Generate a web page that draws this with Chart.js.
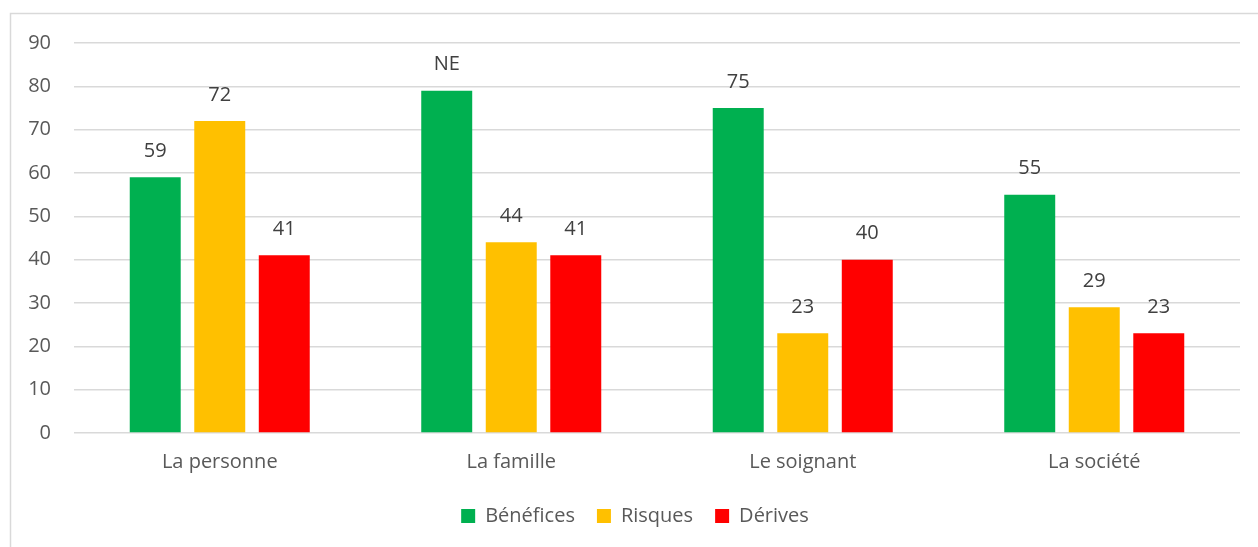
<!DOCTYPE html>
<html><head><meta charset="utf-8">
<script src="https://cdn.jsdelivr.net/npm/chart.js@4.4.0/dist/chart.umd.min.js"></script>
<style>html,body{margin:0;padding:0;background:#fff}#wrap{width:1258px;height:547px;position:relative}</style>
</head><body><div id="wrap"><canvas id="c" width="1258" height="547"></canvas></div>
<script>
const categories = ["La personne", "La famille", "Le soignant", "La société"];
const benefices = [59, 79, 75, 55];
const risques = [72, 44, 23, 29];
const derives = [41, 41, 40, 23];
const beneficesLabels = ["59", "NE", "75", "55"];
const risquesLabels = ["72", "44", "23", "29"];
const derivesLabels = ["41", "41", "40", "23"];
const yTicks = [0, 10, 20, 30, 40, 50, 60, 70, 80, 90];

const FONT = "'Open Sans', Lato, sans-serif";

const frame = {
  id: 'frame',
  beforeDraw(chart) {
    const ctx = chart.ctx;
    ctx.save();
    ctx.fillStyle = '#fff';
    ctx.fillRect(0, 0, chart.width, chart.height);
    ctx.strokeStyle = '#d9d9d9';
    ctx.lineWidth = 1.5;
    ctx.beginPath();
    ctx.moveTo(10.5, chart.height);
    ctx.lineTo(10.5, 13.5);
    ctx.lineTo(chart.width, 13.5);
    ctx.stroke();
    ctx.restore();
  }
};

const legendShift = {
  id: 'legendShift',
  afterLayout(chart) {
    if (chart.legend) { chart.legend.left += 15; chart.legend.right += 15; }
  }
};

const valueLabels = {
  id: 'valueLabels',
  afterDatasetsDraw(chart) {
    const ctx = chart.ctx;
    ctx.save();
    ctx.font = "20px " + FONT;
    ctx.fillStyle = '#404040';
    ctx.textAlign = 'center';
    ctx.textBaseline = 'middle';
    chart.data.datasets.forEach((ds, i) => {
      const meta = chart.getDatasetMeta(i);
      meta.data.forEach((bar, j) => {
        ctx.fillText(ds.valueLabels[j], bar.x, bar.y - 26);
      });
    });
    ctx.restore();
  }
};

new Chart(document.getElementById('c'), {
  type: 'bar',
  data: {
    labels: categories,
    datasets: [
      { label: 'Bénéfices', data: benefices, valueLabels: beneficesLabels, backgroundColor: '#00b050' },
      { label: 'Risques', data: risques, valueLabels: risquesLabels, backgroundColor: '#ffc000' },
      { label: 'Dérives', data: derives, valueLabels: derivesLabels, backgroundColor: '#ff0000' }
    ]
  },
  options: {
    responsive: false,
    animation: false,
    devicePixelRatio: 1,
    categoryPercentage: 0.664,
    barPercentage: 0.79,
    layout: { padding: { left: 0, right: 18, top: 43, bottom: 11 } },
    plugins: {
      legend: {
        position: 'bottom',
        labels: {
          font: { size: 20, family: FONT },
          color: '#595959',
          boxWidth: 14,
          boxHeight: 14,
          padding: 22,
          useBorderRadius: false
        }
      },
      tooltip: { enabled: false }
    },
    scales: {
      x: {
        afterFit(scale) { scale.height = 51; },
        grid: { display: false, drawTicks: false },
        border: { display: false },
        ticks: { font: { size: 20, family: FONT }, color: '#595959', padding: 17 }
      },
      y: {
        min: 0, max: 90,
        afterFit(scale) { scale.width = 74; },
        afterBuildTicks(scale) { scale.ticks = yTicks.map(v => ({ value: v })); },
        grid: { color: '#d9d9d9', lineWidth: 1.5, drawTicks: false },
        border: { display: false },
        ticks: { font: { size: 20, family: FONT }, color: '#595959', padding: 23 }
      }
    }
  },
  plugins: [frame, legendShift, valueLabels]
});
</script></body></html>
